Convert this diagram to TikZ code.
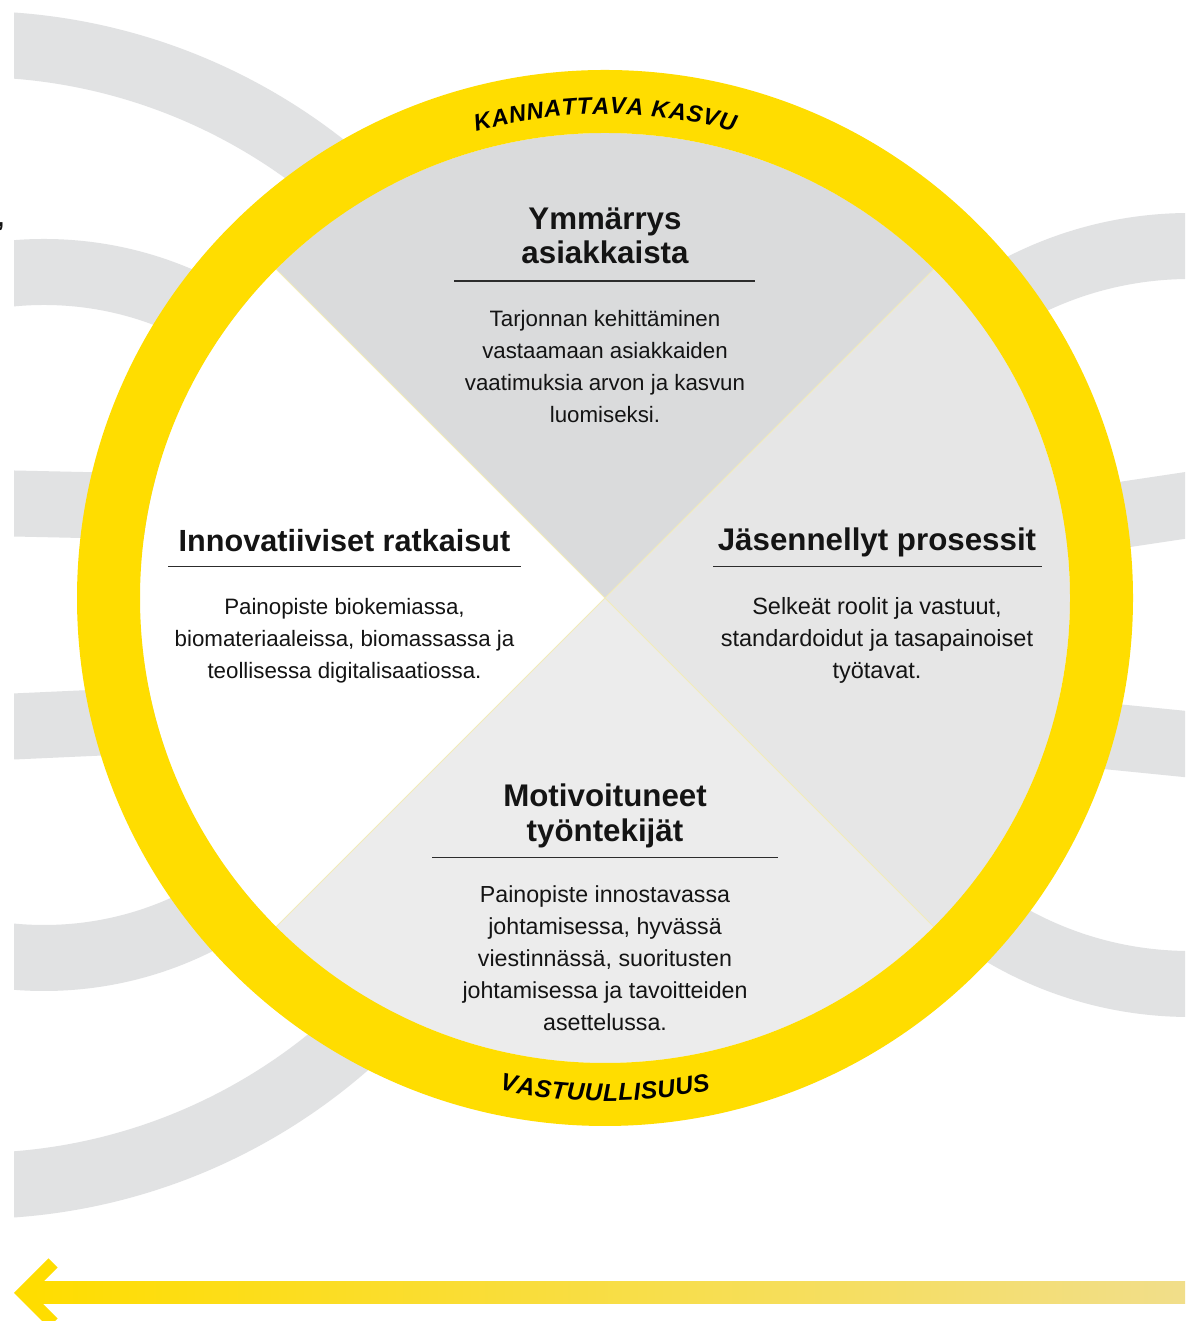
\documentclass[tikz,border=0pt]{standalone}
\usepackage{fontspec}
\setmainfont{Liberation Sans}
\newfontfamily\ringfont{Liberation Sans}
\usetikzlibrary{decorations.text}
\definecolor{ringyellow}{HTML}{FFDD00}
\definecolor{bandgray}{HTML}{E1E2E3}
\definecolor{topgray}{HTML}{DADBDC}
\definecolor{rightgray}{HTML}{E6E6E6}
\definecolor{botgray}{HTML}{ECECEC}
\definecolor{divline}{HTML}{F2EBB8}
\definecolor{ink}{HTML}{141414}
\definecolor{arrowend}{HTML}{F1DE8A}
\begin{document}
\begin{tikzpicture}[x=1pt,y=1pt,
  heading/.style={font=\fontsize{#1}{35}\selectfont\bfseries, text=ink, inner sep=0pt, anchor=base},
  heading/.default=31.3,
  body/.style={font=\fontsize{#1}{32}\selectfont, text=ink, inner sep=0pt, anchor=base},
  body/.default=22.3,
  rulestyle/.style={line width=1.4pt, draw=ink!90},
  band/.style={draw=bandgray, line width=66pt},
  divider/.style={draw=divline, line width=0.8pt}]
\useasboundingbox (0,0) rectangle (1185,1321);
\clip (0,0) rectangle (1185,1321);
\fill[white] (0,0) rectangle (1185,1321);

% background bands
\begin{scope}
  \clip (14,0) rectangle (1185,1321);
  \draw[band] (-29,706) circle (571);
  \draw[band] (44,706) circle (343);
  \draw[band] (0,817.8) -- (200,813.4);
  \draw[band] (0,593.9) -- (200,602.9);
  \draw[band] (1190,706) circle (369);
  \draw[band] (1210,819.3) -- (1000,787.8);
  \draw[band] (1210,574.5) -- (1000,595.5);
\end{scope}

% wheel
\begin{scope}[shift={(605,723)}]
  \fill[topgray] (0,0) -- (45:465) arc[start angle=45,end angle=135,radius=465] -- cycle;
  \fill[rightgray] (0,0) -- (-45:465) arc[start angle=-45,end angle=45,radius=465] -- cycle;
  \fill[botgray] (0,0) -- (225:465) arc[start angle=225,end angle=315,radius=465] -- cycle;
  \fill[white] (0,0) -- (135:465) arc[start angle=135,end angle=225,radius=465] -- cycle;
  \draw[divider] (45:465) -- (225:465);
  \draw[divider] (135:465) -- (315:465);
  \draw[ringyellow, line width=63pt] (0,0) circle (496.5);
  \path[decorate, decoration={text effects along path, text={KANNATTAVA KASVU}, text align=center,
    text effects/.cd, text along path,
    characters={font=\ringfont\bfseries\itshape\fontsize{23.5}{23.5}\selectfont, text=black, inner xsep=0.3pt, inner ysep=0pt, anchor=base},
    character widths={font=\ringfont\bfseries\itshape\fontsize{23.5}{23.5}\selectfont, inner xsep=0.3pt}}]
    (118:484) arc[start angle=118, end angle=62, radius=484];
  \path[decorate, decoration={text effects along path, text={VASTUULLISUUS}, text align=center,
    text effects/.cd, text along path,
    characters={font=\ringfont\bfseries\itshape\fontsize{24.5}{24.5}\selectfont, text=black, inner xsep=0.3pt, inner ysep=0pt, anchor=base},
    character widths={font=\ringfont\bfseries\itshape\fontsize{24.5}{24.5}\selectfont, inner xsep=0.3pt}}]
    (238:503) arc[start angle=238, end angle=302, radius=503];
\end{scope}

% top quadrant
\node[heading] (th1) at (605,{1321-230}) {Ymmärrys};
\node[heading] (th2) at (605,{1321-264}) {asiakkaista};
\draw[rulestyle] (454,{1321-281}) -- (755,{1321-281});
\node[body] (tb1) at (605,{1321-327}) {Tarjonnan kehittäminen};
\node[body] (tb2) at (605,{1321-359}) {vastaamaan asiakkaiden};
\node[body] (tb3) at (605,{1321-391}) {vaatimuksia arvon ja kasvun};
\node[body] (tb4) at (605,{1321-423}) {luomiseksi.};

% left quadrant
\node[heading=30.6] (lh1) at (344.5,{1321-552}) {Innovatiiviset ratkaisut};
\draw[rulestyle] (168,{1321-566.5}) -- (521,{1321-566.5});
\node[body] (lb1) at (344.5,{1321-615}) {Painopiste biokemiassa,};
\node[body] (lb2) at (344.5,{1321-647}) {biomateriaaleissa, biomassassa ja};
\node[body] (lb3) at (344.5,{1321-679}) {teollisessa digitalisaatiossa.};

% right quadrant
\node[heading] (rh1) at (877,{1321-551}) {Jäsennellyt prosessit};
\draw[rulestyle] (713,{1321-566.5}) -- (1042,{1321-566.5});
\node[body=23.5] (rb1) at (877,{1321-615}) {Selkeät roolit ja vastuut,};
\node[body=23.5] (rb2) at (877,{1321-647}) {standardoidut ja tasapainoiset};
\node[body=23.5] (rb3) at (877,{1321-679}) {työtavat.};

% bottom quadrant
\node[heading] (bh1) at (605,{1321-807}) {Motivoituneet};
\node[heading] (bh2) at (605,{1321-842}) {työntekijät};
\draw[rulestyle] (432,{1321-857.5}) -- (778,{1321-857.5});
\node[body=23.2] (bb1) at (605,{1321-903}) {Painopiste innostavassa};
\node[body=23.2] (bb2) at (605,{1321-935}) {johtamisessa, hyvässä};
\node[body=23.2] (bb3) at (605,{1321-967}) {viestinnässä, suoritusten};
\node[body=23.2] (bb4) at (605,{1321-999}) {johtamisessa ja tavoitteiden};
\node[body=23.2] (bb5) at (605,{1321-1031}) {asettelussa.};

% stray comma at the left edge
\node[font=\fontsize{26}{26}\selectfont\bfseries, text=ink, inner sep=0pt, anchor=base west] (stray) at (-3,{1321-227}) {,};

% bottom arrow
\shade[left color=ringyellow, right color=arrowend] (32,17) rectangle (1185,39);
\fill[ringyellow] (14,28) -- (48.5,62.5) -- (57.5,53.5) -- (32,28) -- (57.5,2.5) -- (48.5,-6.5) -- cycle;
\end{tikzpicture}
\end{document}
